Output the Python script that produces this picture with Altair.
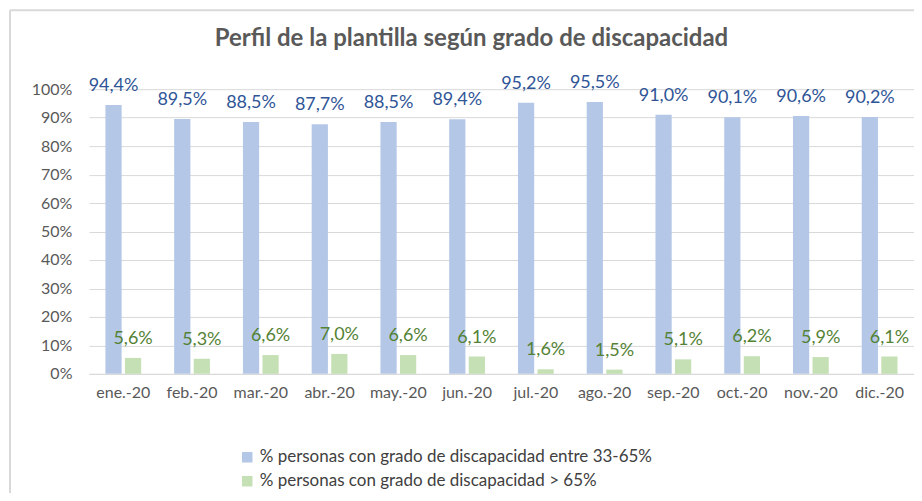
import altair as alt
import pandas as pd

months = ["ene.-20", "feb.-20", "mar.-20", "abr.-20", "may.-20", "jun.-20",
          "jul.-20", "ago.-20", "sep.-20", "oct.-20", "nov.-20", "dic.-20"]
series_names = ["% personas con grado de discapacidad entre 33-65%",
                "% personas con grado de discapacidad > 65%"]
blue_vals = [94.4, 89.5, 88.5, 87.7, 88.5, 89.4, 95.2, 95.5, 91.0, 90.1, 90.6, 90.2]
green_vals = [5.6, 5.3, 6.6, 7.0, 6.6, 6.1, 1.6, 1.5, 5.1, 6.2, 5.9, 6.1]

rows = []
for m, b, g in zip(months, blue_vals, green_vals):
    rows.append({"mes": m, "serie": series_names[0], "v": b / 100})
    rows.append({"mes": m, "serie": series_names[1], "v": g / 100})
df = pd.DataFrame(rows)

FONT = "Lato"
GRAY = "#595959"

x = alt.X("mes:N", sort=months, title=None,
          scale=alt.Scale(paddingInner=0.48, paddingOuter=0.24),
          axis=alt.Axis(labelAngle=0, ticks=False, domain=True, domainColor="#D9D9D9",
                        labelColor=GRAY, labelFontSize=16, labelFont=FONT, labelPadding=11,
                        grid=False))
xoff = alt.XOffset("serie:N", sort=series_names,
                   scale=alt.Scale(paddingInner=0.17, paddingOuter=0))
y = alt.Y("v:Q", title=None,
          scale=alt.Scale(domain=[0, 1], nice=False),
          axis=alt.Axis(format=".0%", values=[i / 10 for i in range(11)], domain=False,
                        ticks=False, labelColor=GRAY, labelFontSize=16, labelFont=FONT,
                        labelPadding=17, gridColor="#D9D9D9"))
color = alt.Color("serie:N", sort=series_names,
                  scale=alt.Scale(domain=series_names, range=["#B4C7E7", "#C5E0B4"]),
                  legend=alt.Legend(title=None, orient="none", legendX=150, legendY=360,
                                    direction="vertical", symbolType="square", symbolSize=110,
                                    symbolStrokeWidth=0, labelFontSize=17, labelFont=FONT,
                                    labelColor="#404040", rowPadding=6, labelLimit=700))

base = alt.Chart(df)
bars = base.mark_bar().encode(x=x, xOffset=xoff, y=y, color=color)
labels = base.mark_text(baseline="bottom", dy=-10, fontSize=18, font=FONT).transform_calculate(
    lab="replace(format(datum.v*100, '.1f'), '.', ',') + '%'"
).encode(
    x=x, xOffset=xoff, y=y, text="lab:N",
    color=alt.Color("serie:N", scale=alt.Scale(domain=series_names, range=["#2F5597", "#548235"]),
                    legend=None)
)

one = pd.DataFrame({"a": [0]})
frame_left = alt.Chart(one).mark_rule(color="#D9D9D9", strokeWidth=2, clip=False).encode(
    x=alt.value(-79), y=alt.value(-79), y2=alt.value(500)
)
frame_top = alt.Chart(one).mark_rule(color="#D9D9D9", strokeWidth=2, clip=False).encode(
    x=alt.value(-79), x2=alt.value(900), y=alt.value(-79)
)

chart = alt.layer(frame_left, frame_top, bars, labels).resolve_scale(color="independent").properties(
    width=826, height=285,
    autosize=alt.AutoSizeParams(type="none"),
    padding={"left": 81, "top": 81, "right": 0, "bottom": 119},
    title=alt.TitleParams("Perfil de la plantilla según grado de discapacidad",
                          fontSize=24, font=FONT, fontWeight="bold", color=GRAY,
                          anchor="middle", dx=-30, offset=-66, baseline="bottom")
).configure_view(stroke=None)

chart.save("out.html", embed_options={"renderer": "svg", "actions": False})
